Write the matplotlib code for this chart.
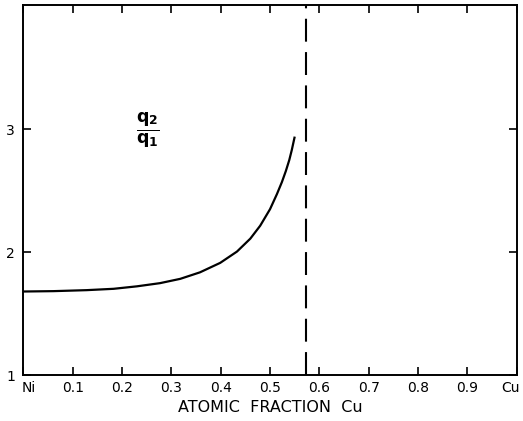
import matplotlib
matplotlib.use('Agg')
import matplotlib.pyplot as plt
import matplotlib.transforms as mtransforms

# Data
frac_cu = [0.0, 0.061, 0.128, 0.183, 0.230, 0.277, 0.318, 0.358, 0.399, 0.433,
           0.460, 0.480, 0.500, 0.514, 0.524, 0.532, 0.539, 0.544, 0.547, 0.550]
q_ratio = [1.680, 1.683, 1.691, 1.702, 1.722, 1.748, 1.783, 1.836, 1.913, 2.005,
           2.110, 2.215, 2.350, 2.473, 2.570, 2.660, 2.750, 2.830, 2.885, 2.940]
boundary_x = 0.572

x_ticks = [0.0, 0.1, 0.2, 0.3, 0.4, 0.5, 0.6, 0.7, 0.8, 0.9, 1.0]
x_labels = ['Ni', '0.1', '0.2', '0.3', '0.4', '0.5', '0.6', '0.7', '0.8', '0.9', 'Cu']
y_ticks = [1, 2, 3]
y_labels = ['1', '2', '3']

plt.rcParams['font.family'] = ['DejaVu Sans']
plt.rcParams['mathtext.fontset'] = 'dejavusans'

fig = plt.figure(figsize=(5.23, 4.21), dpi=100)
ax = fig.add_axes([0.0446, 0.109, 0.9435, 0.879])

ax.plot(frac_cu, q_ratio, color='black', lw=1.6, solid_capstyle='butt',
        solid_joinstyle='round')
ax.axvline(boundary_x, color='black', lw=1.5, dashes=(11, 5))

ax.text(0.253, 2.99, r'$\frac{\mathbf{q}_\mathbf{2}}{\mathbf{q}_\mathbf{1}}$', fontsize=18,
        ha='center', va='center')

ax.set_xlim(0, 1)
ax.set_ylim(1, 4.01)
ax.set_xticks(x_ticks)
ax.set_xticklabels(x_labels, fontsize=10)
ax.set_yticks(y_ticks)
ax.set_yticklabels(y_labels, fontsize=10)
ax.tick_params(direction='in', length=6, width=1.2, top=True, right=True, pad=4)
ax.tick_params(axis='y', pad=6)
for s in ax.spines.values():
    s.set_linewidth(1.4)

# nudge the end labels inward like the original
labels = ax.get_xticklabels()
labels[0].set_transform(labels[0].get_transform() +
                        mtransforms.ScaledTranslation(5 / 100, 0, fig.dpi_scale_trans))
labels[-1].set_transform(labels[-1].get_transform() +
                         mtransforms.ScaledTranslation(-6 / 100, 0, fig.dpi_scale_trans))

ax.set_xlabel('ATOMIC  FRACTION  Cu', fontsize=11.5, labelpad=4)

fig.savefig('out.png', dpi=100)
